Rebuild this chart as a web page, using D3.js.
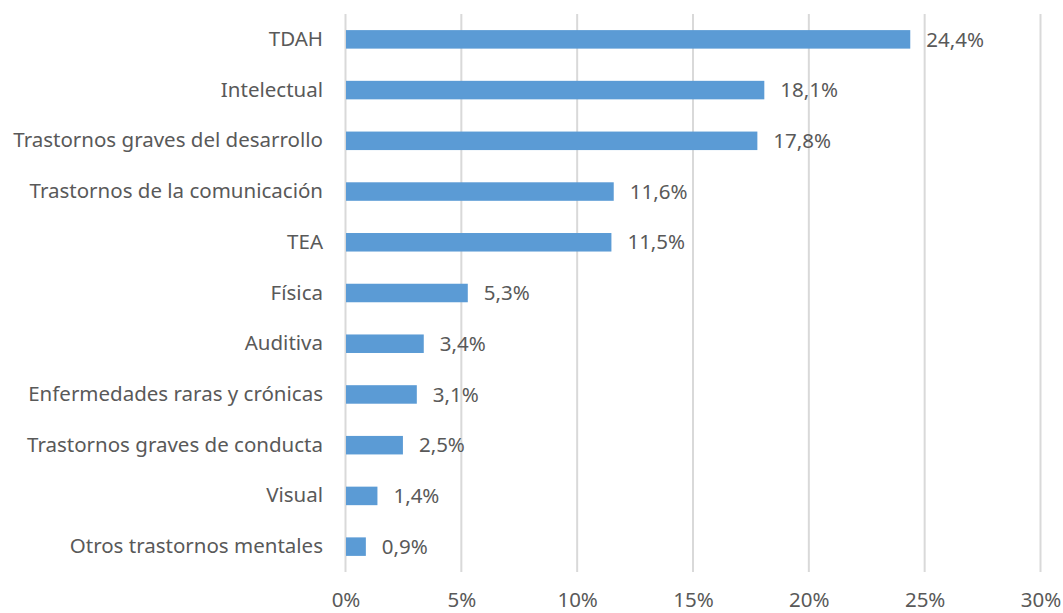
<!DOCTYPE html>
<html>
<head>
<meta charset="utf-8">
<script src="https://cdn.jsdelivr.net/npm/d3@7"></script>
<style>
  body { margin: 0; background: #fff; }
  svg text { font-family: "Noto Sans", "Open Sans", sans-serif; fill: #595959; }
</style>
</head>
<body>
<div id="chart"></div>
<script>
// Data
const categories = [
    'TDAH',
    'Intelectual',
    'Trastornos graves del desarrollo',
    'Trastornos de la comunicación',
    'TEA',
    'Física',
    'Auditiva',
    'Enfermedades raras y crónicas',
    'Trastornos graves de conducta',
    'Visual',
    'Otros trastornos mentales'
];
const values = [24.4, 18.1, 17.8, 11.6, 11.5, 5.3, 3.4, 3.1, 2.5, 1.4, 0.9];
const tickValues = [0, 5, 10, 15, 20, 25, 30];

const dataSet = categories.map((c, i) => ({ category: c, value: values[i] }));
const xAccessor = d => d.value;
const yAccessor = d => d.category;

// Dimensions
let dimensions = {
    width: 1063,
    height: 613,
    margin: {
        top: 14,
        bottom: 41,
        left: 345,
        right: 23
    }
};
dimensions.ctrWidth = dimensions.width - dimensions.margin.left - dimensions.margin.right;
dimensions.ctrHeight = dimensions.height - dimensions.margin.top - dimensions.margin.bottom;

const fontSize = '20.5px';

// Scales
const xScale = d3.scaleLinear()
    .domain([0, 30])
    .range([0, dimensions.ctrWidth]);

const yScale = d3.scaleBand()
    .domain(categories)
    .range([0, dimensions.ctrHeight])
    .paddingInner(0.635)
    .paddingOuter(0.3175);

const fmt = v => d3.format('.1f')(v).replace('.', ',') + '%';

// Draw Image
const svg = d3.select('#chart')
    .append('svg')
    .attr('width', dimensions.width)
    .attr('height', dimensions.height);

const ctr = svg.append('g')
    .attr('transform', `translate(${dimensions.margin.left},${dimensions.margin.top})`);

// Gridlines
ctr.append('g')
    .selectAll('line')
    .data(tickValues)
    .join('line')
    .attr('x1', d => xScale(d) + 0.5)
    .attr('x2', d => xScale(d) + 0.5)
    .attr('y1', 0)
    .attr('y2', dimensions.ctrHeight)
    .attr('stroke', '#d9d9d9')
    .attr('stroke-width', 2);

// Bars
ctr.append('g')
    .selectAll('rect')
    .data(dataSet)
    .join('rect')
    .attr('x', 1)
    .attr('y', d => yScale(yAccessor(d)))
    .attr('width', d => xScale(xAccessor(d)) - 1)
    .attr('height', yScale.bandwidth())
    .attr('fill', '#5b9bd5');

// Value labels
ctr.append('g')
    .selectAll('text')
    .data(dataSet)
    .join('text')
    .attr('x', d => xScale(xAccessor(d)) + 16)
    .attr('y', d => yScale(yAccessor(d)) + yScale.bandwidth() / 2)
    .attr('dy', '0.35em')
    .style('font-size', fontSize)
    .text(d => fmt(xAccessor(d)));

// Axes
const xAxis = d3.axisBottom(xScale)
    .tickValues(tickValues)
    .tickSize(0)
    .tickPadding(20)
    .tickFormat(t => `${t}%`);

const xAxisGroup = ctr.append('g')
    .attr('transform', `translate(0.5,${dimensions.ctrHeight})`)
    .call(xAxis);
xAxisGroup.select('.domain').remove();
xAxisGroup.selectAll('text')
    .style('font-size', fontSize)
    .attr('fill', null);

const yAxis = d3.axisLeft(yScale)
    .tickSize(0)
    .tickPadding(22);

const yAxisGroup = ctr.append('g')
    .call(yAxis);
yAxisGroup.select('.domain').remove();
yAxisGroup.selectAll('text')
    .style('font-size', fontSize)
    .attr('fill', null);
</script>
</body>
</html>
